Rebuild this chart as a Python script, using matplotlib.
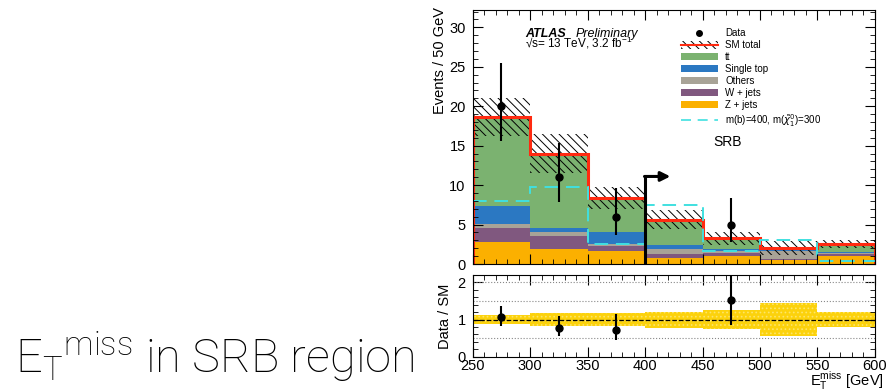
import numpy as np
import matplotlib
matplotlib.use("Agg")
import matplotlib.pyplot as plt
from matplotlib.patches import Patch
from matplotlib.lines import Line2D
from matplotlib.ticker import MultipleLocator

plt.rcParams['font.family'] = ['Liberation Sans', 'DejaVu Sans']
plt.rcParams['hatch.linewidth'] = 0.7

# binning (E_T^miss, GeV)
edges = [250, 300, 350, 400, 450, 500, 550, 600]

# background stack, bottom to top
z_jets = [2.83, 1.95, 1.70, 0.80, 1.00, 0.55, 1.00]
w_jets = [1.70, 1.60, 0.55, 0.47, 0.35, 0.10, 0.30]
others = [0.59, 0.55, 0.25, 0.59, 0.25, 1.05, 0.10]
single_top = [2.25, 0.50, 1.50, 0.51, 0.30, 0.10, 0.10]
ttbar = [11.23, 9.40, 4.35, 3.23, 1.36, 0.20, 1.00]
sm_err = [2.4, 2.5, 1.4, 1.2, 0.8, 0.9, 0.5]

signal = [8.0, 9.8, 2.6, 7.5, 1.6, 3.05, 0.42]

data = [20, 11, 6, 0, 5, 0, 0]
data_up = [5.5, 4.4, 3.6, 0, 3.4, 0, 0]
data_dn = [4.4, 3.2, 2.3, 0, 2.2, 0, 0]

stack = [
    ("Z + jets", z_jets, "#fbb000"),
    ("W + jets", w_jets, "#80587f"),
    ("Others", others, "#a8a397"),
    ("Single top", single_top, "#2b78c2"),
    ("tt", ttbar, "#7bb270"),
]

edges = np.array(edges)
centers = 0.5 * (edges[1:] + edges[:-1])
total = np.sum([np.array(s[1]) for s in stack], axis=0)
err = np.array(sm_err)
data = np.array(data, dtype=float)
has = data > 0

fig = plt.figure(figsize=(8.86, 3.89), dpi=100)
ax = fig.add_axes([0.5335, 0.3213, 0.454, 0.653])
axr = fig.add_axes([0.5335, 0.083, 0.454, 0.2101])

# stacked backgrounds
bottom = np.zeros(len(total))
for name, vals, col in stack:
    top = bottom + np.array(vals)
    ax.stairs(top, edges, baseline=bottom, fill=True, color=col, lw=0)
    bottom = top

# uncertainty hatch
ax.stairs(total + err, edges, baseline=total - err, fill=True, facecolor='none',
          edgecolor='k', hatch='\\\\\\\\', lw=0)
ax.stairs(total, edges, baseline=0, color='#ff2a10', lw=2.2)
ax.stairs(signal, edges, baseline=None, color='#40e0e0', lw=1.4, ls=(0, (7, 4)))

ax.errorbar(centers[has], data[has], yerr=[np.array(data_dn)[has], np.array(data_up)[has]],
            fmt='o', color='k', ms=5, lw=1.5, capsize=0)

# signal region arrow
ax.plot([400, 400], [0, 11.1], color='k', lw=2.2, solid_capstyle='butt')
ax.annotate('', xy=(422, 11.1), xytext=(399.5, 11.1),
            arrowprops=dict(arrowstyle='-|>', color='k', lw=2.2, mutation_scale=14,
                            shrinkA=0, shrinkB=0))

ax.set_xlim(250, 600)
ax.set_ylim(0, 32.2)
ax.set_ylabel('Events / 50 GeV', fontsize=10.5, loc='top')
ax.yaxis.set_major_locator(MultipleLocator(5))
ax.yaxis.set_minor_locator(MultipleLocator(1))
ax.xaxis.set_major_locator(MultipleLocator(50))
ax.xaxis.set_minor_locator(MultipleLocator(10))
ax.tick_params(axis='both', which='both', direction='in', top=True, right=True, labelsize=10.5)
ax.tick_params(which='major', length=7, pad=5)
ax.tick_params(which='minor', length=3.5)
ax.tick_params(axis='x', labelbottom=False)

ax.text(0.13, 0.892, 'ATLAS', transform=ax.transAxes, fontsize=9,
        fontweight='bold', style='italic', va='baseline')
ax.text(0.257, 0.892, 'Preliminary', transform=ax.transAxes, fontsize=9, style='italic',
        va='baseline')
ax.text(0.13, 0.852, '\u221as= 13 TeV, 3.2 fb$^{\\mathregular{-1}}$', transform=ax.transAxes,
        fontsize=8.5, va='baseline')
ax.text(472, 15.5, 'SRB', fontsize=10, ha='center', va='center')

handles = [
    Line2D([], [], marker='o', color='k', ls='none', ms=4),
    (Patch(facecolor='white', edgecolor='k', hatch='\\\\\\\\', lw=0),
     Line2D([], [], color='#ff2a10', lw=1.5)),
]
labels = ['Data', 'SM total']
for name, vals, col in reversed(stack):
    handles.append(Patch(facecolor=col, lw=0))
    labels.append(name)
handles.append(Line2D([], [], color='#40e0e0', lw=1.2, ls=(0, (6, 4))))
labels.append(r'm(b)=400, m($\tilde{\chi}^0_1$)=300')
ax.legend(handles, labels, loc='upper left', bbox_to_anchor=(0.5, 0.955), frameon=False,
          fontsize=7, handlelength=3.8, handleheight=0.8, labelspacing=0.2,
          handletextpad=0.8, borderpad=0.2)

# ratio panel
rel = err / total
axr.stairs(1 + rel, edges, baseline=1 - rel, fill=True, facecolor='#fcd20c',
           edgecolor='#fde56a', hatch='....', lw=0)
for yv in [0.5, 1.5, 2.0]:
    axr.axhline(yv, color='#888888', lw=0.8, ls=':')
axr.axhline(1, color='k', lw=0.9, ls='--')
ratio = data / total
axr.errorbar(centers[has], ratio[has],
             yerr=[np.array(data_dn)[has] / total[has], np.array(data_up)[has] / total[has]],
             fmt='o', color='k', ms=5, lw=1.5, capsize=0)
axr.set_xlim(250, 600)
axr.set_ylim(0, 2.2)
axr.set_ylabel('Data / SM', fontsize=10.5)
axr.yaxis.set_major_locator(MultipleLocator(1))
axr.yaxis.set_minor_locator(MultipleLocator(0.2))
axr.xaxis.set_major_locator(MultipleLocator(50))
axr.xaxis.set_minor_locator(MultipleLocator(10))
axr.tick_params(axis='both', which='both', direction='in', top=True, right=True, labelsize=10.5)
axr.tick_params(which='major', length=7, pad=5)
axr.tick_params(axis='x', which='major', pad=2)
axr.tick_params(which='minor', length=3.5)
ax.yaxis.set_label_coords(-0.064, 1.012)
axr.yaxis.set_label_coords(-0.052, 0.5)

# x axis title, tucked under the tick labels like the ROOT style
fig.text(884 / 886, 1 - 386 / 389, r'E$_{\mathregular{T}}^{\mathregular{miss}}$ [GeV]',
         fontsize=10.5, ha='right', va='baseline')

# slide title on the left
title = fig.text(15 / 886, 1 - 373 / 389,
                 r'E$_{\mathregular{T}}$$^{\mathregular{miss}}$ in SRB region',
                 fontsize=28, family='Roboto', fontweight='light', va='baseline')
renderer = fig.canvas.get_renderer()
bb = title.get_window_extent(renderer)
title.set_fontsize(28 * 400 / bb.width)

fig.savefig('out.png', dpi=100)
